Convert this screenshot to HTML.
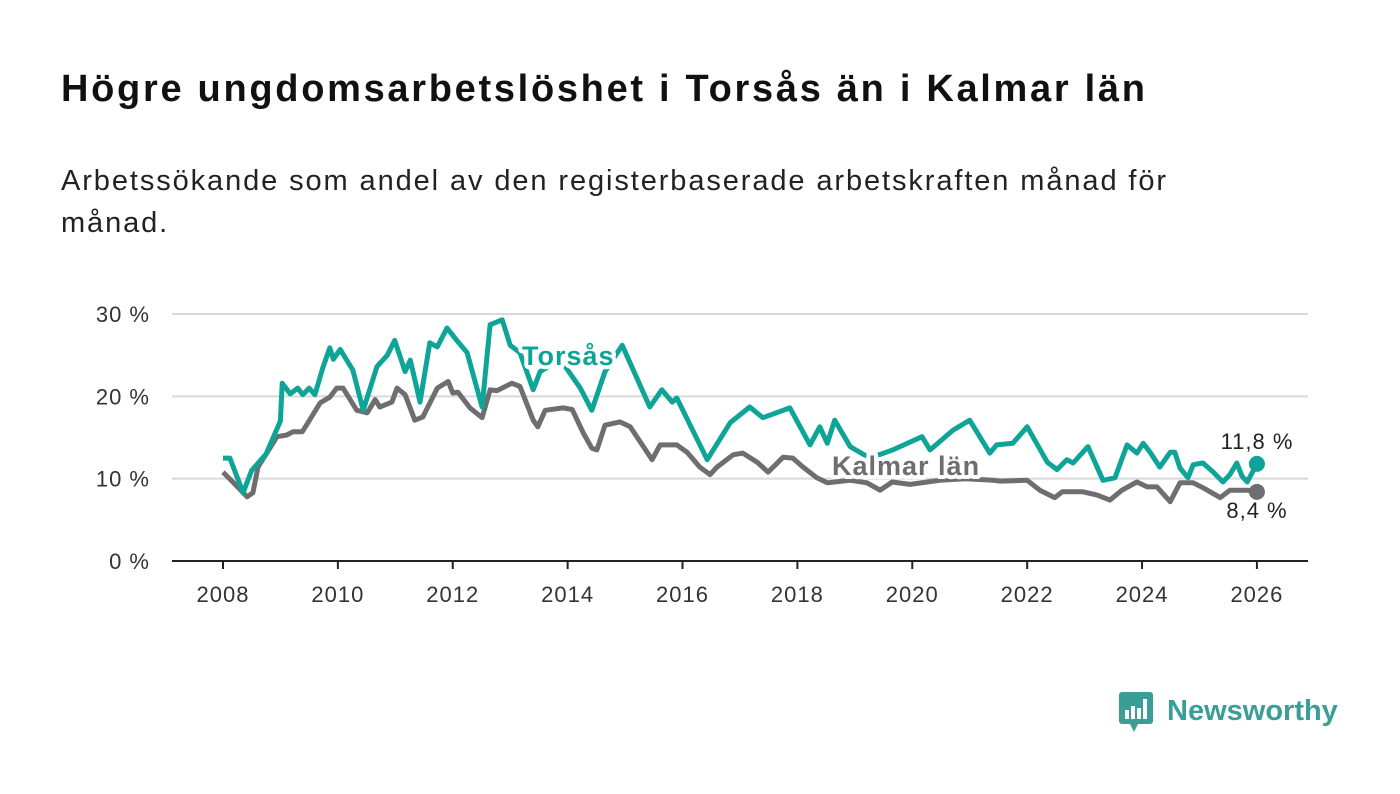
<!DOCTYPE html>
<html><head><meta charset="utf-8"><style>
body{margin:0;width:1400px;height:794px;background:#fff;font-family:"Liberation Sans",sans-serif;overflow:hidden;position:relative}
#title{position:absolute;left:61px;top:68px;font-size:38px;font-weight:bold;color:#111;margin:0;letter-spacing:2.7px;white-space:nowrap}
#sub{position:absolute;left:61px;top:160px;font-size:29px;color:#222;line-height:42px;width:1180px;margin:0;letter-spacing:1.9px}
svg{position:absolute;left:0;top:0}
</style></head><body>
<h1 id="title">Högre ungdomsarbetslöshet i Torsås än i Kalmar län</h1>
<p id="sub">Arbetssökande som andel av den registerbaserade arbetskraften månad för månad.</p>
<svg id="chart" width="1400" height="794">
<g id="grid"></g>
<g id="lines"></g>
<g id="labels"></g>
<g>
<rect x="1119" y="692" width="34" height="32" rx="3" fill="#3a9e96"/>
<polygon points="1130,724 1138,724 1134,732" fill="#3a9e96"/>
<rect x="1125" y="710" width="4" height="9" fill="#fff"/>
<rect x="1131" y="706" width="4" height="13" fill="#fff"/>
<rect x="1137" y="708" width="4" height="11" fill="#fff"/>
<rect x="1143" y="699" width="4" height="20" fill="#fff"/>
<text x="1167" y="720" font-size="29" font-weight="bold" fill="#3a9e96" font-family="Liberation Sans, sans-serif">Newsworthy</text>
</g>
</svg>
<script>
const yTicks=[0,10,20,30];
const yTickLabels=["0 %","10 %","20 %","30 %"];
const xTicks=[2008,2010,2012,2014,2016,2018,2020,2022,2024,2026];
const torsasT=[0,.12,.35,.5,.75,1.0,1.03,1.17,1.3,1.39,1.5,1.6,1.74,1.86,1.92,2.04,2.26,2.44,2.68,2.86,2.99,3.17,3.26,3.43,3.6,3.73,3.9,4.07,4.25,4.51,4.65,4.86,5.0,5.17,5.4,5.52,5.87,6.22,6.42,6.65,6.95,7.43,7.64,7.82,7.9,8.43,8.83,9.17,9.4,9.87,10.22,10.39,10.52,10.65,10.92,11.26,11.66,12.17,12.31,12.71,13.0,13.35,13.47,13.75,14.0,14.35,14.52,14.69,14.8,15.06,15.32,15.53,15.74,15.91,16.02,16.14,16.31,16.49,16.57,16.66,16.8,16.89,17.06,17.24,17.41,17.53,17.65,17.74,17.83,18.0];
const torsasV=[12.5,12.5,8.3,11,13,17,21.6,20.3,21,20.2,21,20.2,23.5,25.9,24.5,25.7,23.2,18.3,23.6,25,26.8,23,24.4,19.3,26.5,26,28.3,26.8,25.3,18.7,28.7,29.3,26.2,25.3,20.8,23,24.5,21,18.3,23,26.2,18.7,20.8,19.3,19.8,12.3,16.8,18.7,17.4,18.6,14.1,16.3,14.3,17.1,13.9,12.5,13.5,15.1,13.5,15.9,17.1,13.1,14.1,14.3,16.3,12,11.1,12.3,11.9,13.9,9.8,10.1,14.1,13.1,14.3,13.2,11.4,13.2,13.2,11.3,10.1,11.7,11.9,10.8,9.6,10.5,11.9,10.3,9.6,11.8];
const kalmarT=[0,.17,.42,.52,.61,.94,1.11,1.22,1.38,1.48,1.69,1.86,1.98,2.09,2.33,2.51,2.65,2.73,2.94,3.03,3.17,3.34,3.48,3.73,3.92,4.0,4.09,4.3,4.51,4.65,4.77,5.03,5.17,5.4,5.48,5.61,5.92,6.08,6.27,6.42,6.51,6.65,6.91,7.09,7.47,7.61,7.9,8.08,8.3,8.48,8.6,8.88,9.05,9.3,9.49,9.75,9.92,10.1,10.34,10.52,10.92,11.21,11.44,11.65,11.96,12.48,12.92,13.41,13.53,14.0,14.22,14.48,14.61,14.97,15.22,15.44,15.65,15.91,16.09,16.26,16.49,16.66,16.89,17.06,17.36,17.53,17.83,18.0];
const kalmarV=[10.8,9.6,7.8,8.3,11.4,15.1,15.3,15.7,15.7,16.8,19.2,19.9,21,21,18.3,18,19.6,18.7,19.3,21,20.2,17.1,17.5,21,21.8,20.4,20.5,18.6,17.4,20.8,20.7,21.6,21.2,17.1,16.3,18.3,18.6,18.4,15.6,13.7,13.5,16.5,16.9,16.3,12.3,14.1,14.1,13.2,11.4,10.5,11.4,12.9,13.1,12,10.8,12.6,12.5,11.4,10.1,9.5,9.8,9.5,8.6,9.6,9.3,9.8,10,9.8,9.7,9.8,8.6,7.7,8.4,8.4,8,7.4,8.6,9.6,9,9,7.2,9.5,9.5,8.9,7.7,8.6,8.6,8.4];
const NS="http://www.w3.org/2000/svg";
const X=t=>223+(t-2008)*57.44, XO=o=>X(2008+o), Y=v=>561-v*8.233;
function mk(tag,attrs,parent){const e=document.createElementNS(NS,tag);for(const k in attrs)e.setAttribute(k,attrs[k]);parent.appendChild(e);return e;}
const grid=document.getElementById('grid'),lines=document.getElementById('lines'),labels=document.getElementById('labels');
yTicks.forEach((v,i)=>{
 if(v>0){const l=mk('line',{x1:172,x2:1308,y1:Y(v),y2:Y(v),stroke:'#d9d9d9','stroke-width':2},grid);
 
 }
 const t=mk('text',{x:150,y:Y(v)+8,'text-anchor':'end','font-size':22,fill:'#333','letter-spacing':1},grid);t.textContent=yTickLabels[i];
 
 
});
const ax=mk('line',{x1:172,x2:1308,y1:561,y2:561,stroke:'#222','stroke-width':2},grid);


xTicks.forEach(y=>{
 const tk=mk('line',{x1:X(y),x2:X(y),y1:561,y2:569,stroke:'#222','stroke-width':2},grid);
 
 
 const t=mk('text',{x:X(y),y:602,'text-anchor':'middle','font-size':22,fill:'#333','letter-spacing':1},grid);t.textContent=y;
 
 
});
function path(T,V){return T.map((t,i)=>(i?'L':'M')+XO(t).toFixed(1)+','+Y(V[i]).toFixed(1)).join('');}
const pk=mk('path',{d:path(kalmarT,kalmarV),fill:'none',stroke:'#6e6d70','stroke-width':5,'stroke-linejoin':'round'},lines);


const pt=mk('path',{d:path(torsasT,torsasV),fill:'none',stroke:'#0ea598','stroke-width':5,'stroke-linejoin':'round'},lines);


const lk=kalmarT.length-1, lt=torsasT.length-1;
const dk=mk('circle',{cx:XO(kalmarT[lk]),cy:Y(kalmarV[lk]),r:8,fill:'#6e6d70'},lines);


const dt=mk('circle',{cx:XO(torsasT[lt]),cy:Y(torsasV[lt]),r:8,fill:'#0ea598'},lines);


const st={'paint-order':'stroke',stroke:'#fff','stroke-width':8,'stroke-linejoin':'round','font-weight':'bold','font-size':27,'letter-spacing':1};
const tl=mk('text',Object.assign({x:522,y:365,fill:'#0ea598'},st),labels);tl.textContent='Torsås';


const kl=mk('text',Object.assign({x:832,y:475,fill:'#6e6d70'},st),labels);kl.textContent='Kalmar län';


const vt=mk('text',{x:1257,y:449,'text-anchor':'middle','font-size':22,fill:'#222','letter-spacing':1},labels);vt.textContent='11,8 %';


const vk=mk('text',{x:1257,y:518,'text-anchor':'middle','font-size':22,fill:'#222','letter-spacing':1},labels);vk.textContent='8,4 %';


</script>
</body></html>
